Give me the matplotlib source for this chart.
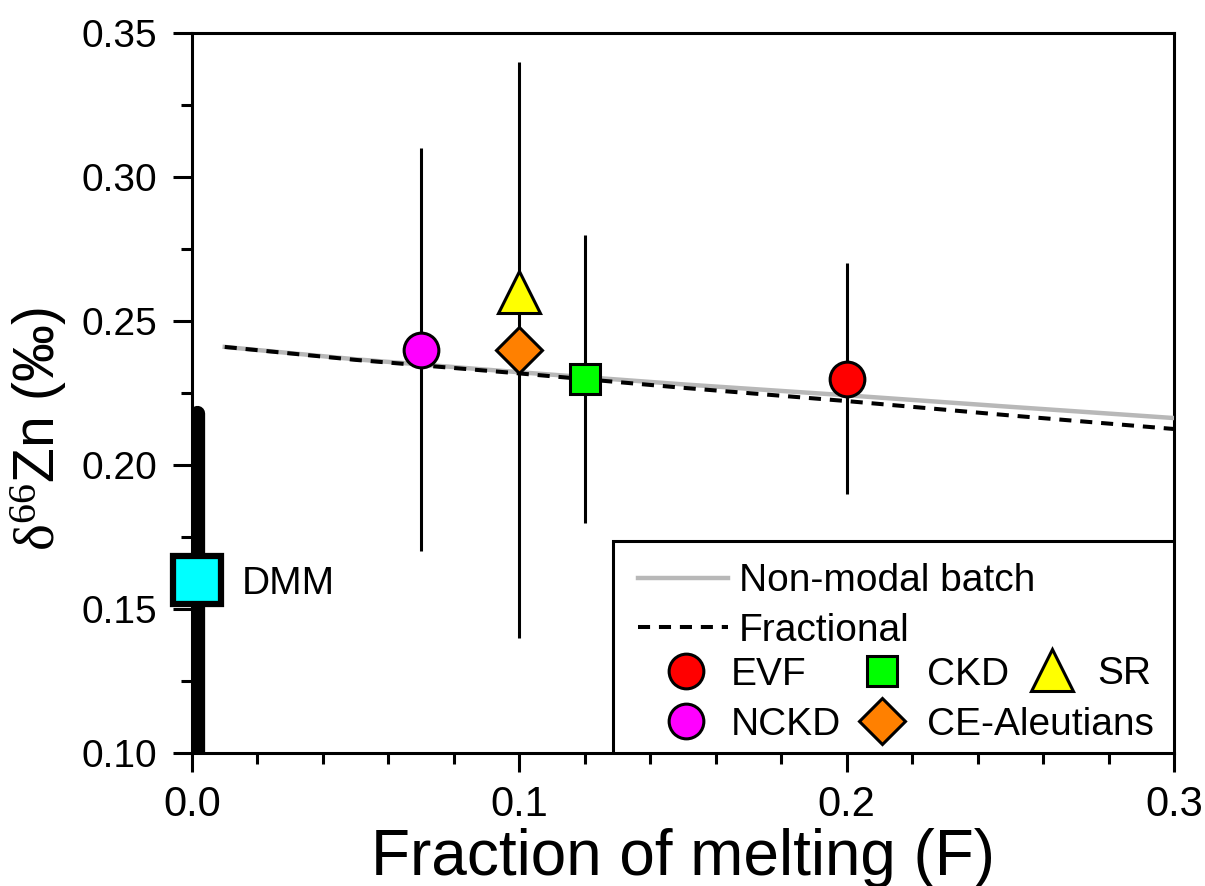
import matplotlib
matplotlib.use('Agg')
import matplotlib.pyplot as plt
from matplotlib.ticker import MultipleLocator, FormatStrFormatter
from matplotlib.patches import Rectangle

# ---------------- data ----------------
F_model = [0.01, 0.05, 0.10, 0.15, 0.20, 0.25, 0.30]
batch_model = [0.2410, 0.2367, 0.2322, 0.2280, 0.2242, 0.2202, 0.2163]
fractional_model = [0.2410, 0.2365, 0.2318, 0.2268, 0.2222, 0.2172, 0.2125]

samples = ['EVF', 'NCKD', 'CKD', 'CE-Aleutians', 'SR']
sample_F = [0.20, 0.07, 0.12, 0.10, 0.10]
sample_d66 = [0.23, 0.24, 0.23, 0.24, 0.26]
sample_err = [0.04, 0.07, 0.05, 0.10, 0.0]
sample_marker = ['o', 'o', 's', 'D', '^']
sample_color = ['#ff0000', '#ff00ff', '#00ff00', '#ff8000', '#ffff00']
sample_size = [25, 25, 22, 23, 30]

dmm_F = 0.0015
dmm_d66 = 0.16
dmm_low, dmm_high = 0.10, 0.218

x_major = [0.0, 0.1, 0.2, 0.3]
y_major = [0.10, 0.15, 0.20, 0.25, 0.30, 0.35]

# ---------------- style ----------------
plt.rcParams['font.family'] = ['Liberation Sans', 'DejaVu Sans']
plt.rcParams['mathtext.fontset'] = 'custom'
plt.rcParams['mathtext.rm'] = 'Liberation Serif'
plt.rcParams['mathtext.it'] = 'Liberation Serif:italic'

fig = plt.figure(figsize=(12.05, 8.86), dpi=100)
ax = fig.add_axes([192/1205, 1-753/886, (1174-192)/1205, (753-33)/886])

# DMM vertical bar
ax.plot([dmm_F, dmm_F], [dmm_low, dmm_high], color='black', lw=11,
        solid_capstyle='round', zorder=3, clip_on=True)
ax.plot([dmm_F], [dmm_d66], marker='s', ms=35, mfc='#00ffff', mec='black',
        mew=4.5, ls='none', zorder=6, clip_on=False)
ax.annotate('DMM', xy=(dmm_F, dmm_d66), xytext=(32, -3), textcoords='offset points',
            fontsize=28, va='center', ha='left')

# error bars
ax.errorbar(sample_F, sample_d66, yerr=sample_err, fmt='none', ecolor='black',
            elinewidth=2.2, capsize=0, zorder=2)

# model curves
l_batch, = ax.plot(F_model, batch_model, color='#b8b8b8', lw=3.2, zorder=3,
                   label='Non-modal batch')
l_frac, = ax.plot(F_model, fractional_model, color='black', lw=2.9,
                  dashes=(3, 2.2), zorder=4, label='Fractional')

# sample markers
handles = {}
for name, fx, dy, mk, c, s in zip(samples, sample_F, sample_d66, sample_marker,
                                  sample_color, sample_size):
    h, = ax.plot([fx], [dy], marker=mk, ms=s, mfc=c, mec='black', mew=2.2,
                 ls='none', zorder=5, label=name)
    handles[name] = h

ax.set_xlim(0, 0.3)
ax.set_ylim(0.10, 0.35)
ax.set_xticks(x_major)
ax.set_yticks(y_major)
ax.xaxis.set_major_formatter(FormatStrFormatter('%.1f'))
ax.yaxis.set_major_formatter(FormatStrFormatter('%.2f'))
ax.xaxis.set_minor_locator(MultipleLocator(0.02))
ax.yaxis.set_minor_locator(MultipleLocator(0.025))

for sp in ax.spines.values():
    sp.set_linewidth(2.2)
ax.tick_params(axis='both', which='major', direction='out', length=14, width=2.2)
ax.tick_params(axis='both', which='minor', direction='out', length=8, width=2.2)
ax.tick_params(axis='x', which='major', labelsize=30, pad=9)
ax.tick_params(axis='y', which='major', labelsize=28, pad=11)

ax.set_xlabel('Fraction of melting (F)', fontsize=46, labelpad=2)
ax.set_ylabel(r'$\mathrm{δ^{66}}$Zn (‰)', fontsize=41)
ax.yaxis.set_label_coords(-0.125, 0.45)

# legend frame
frame = Rectangle((0.4287, 0.0), 1 - 0.4287, 0.2944, transform=ax.transAxes,
                  facecolor='white', edgecolor='black', lw=2.2, zorder=7)
ax.add_patch(frame)

leg_kw = dict(frameon=False, fontsize=28, borderpad=0, borderaxespad=0,
              numpoints=1)
leg1 = ax.legend(handles=[l_batch, l_frac], loc='center left',
                 bbox_to_anchor=(0.4537, 0.2042), handlelength=2.33,
                 handletextpad=0.28, labelspacing=0.35, **leg_kw)
leg1.set_zorder(8)
ax.add_artist(leg1)
leg2 = ax.legend(handles=[handles['EVF'], handles['NCKD']], loc='center left',
                 bbox_to_anchor=(0.4796, 0.0736), handlelength=1.2,
                 handletextpad=0.55, labelspacing=0.36, **leg_kw)
leg2.set_zorder(8)
ax.add_artist(leg2)
leg3 = ax.legend(handles=[handles['CKD'], handles['CE-Aleutians']], loc='center left',
                 bbox_to_anchor=(0.6792, 0.0736), handlelength=1.2,
                 handletextpad=0.55, labelspacing=0.36, **leg_kw)
leg3.set_zorder(8)
ax.add_artist(leg3)
leg4 = ax.legend(handles=[handles['SR']], loc='center left',
                 bbox_to_anchor=(0.8523, 0.1097), handlelength=1.2,
                 handletextpad=0.55, **leg_kw)
leg4.set_zorder(8)

fig.savefig('out.png', dpi=100)
